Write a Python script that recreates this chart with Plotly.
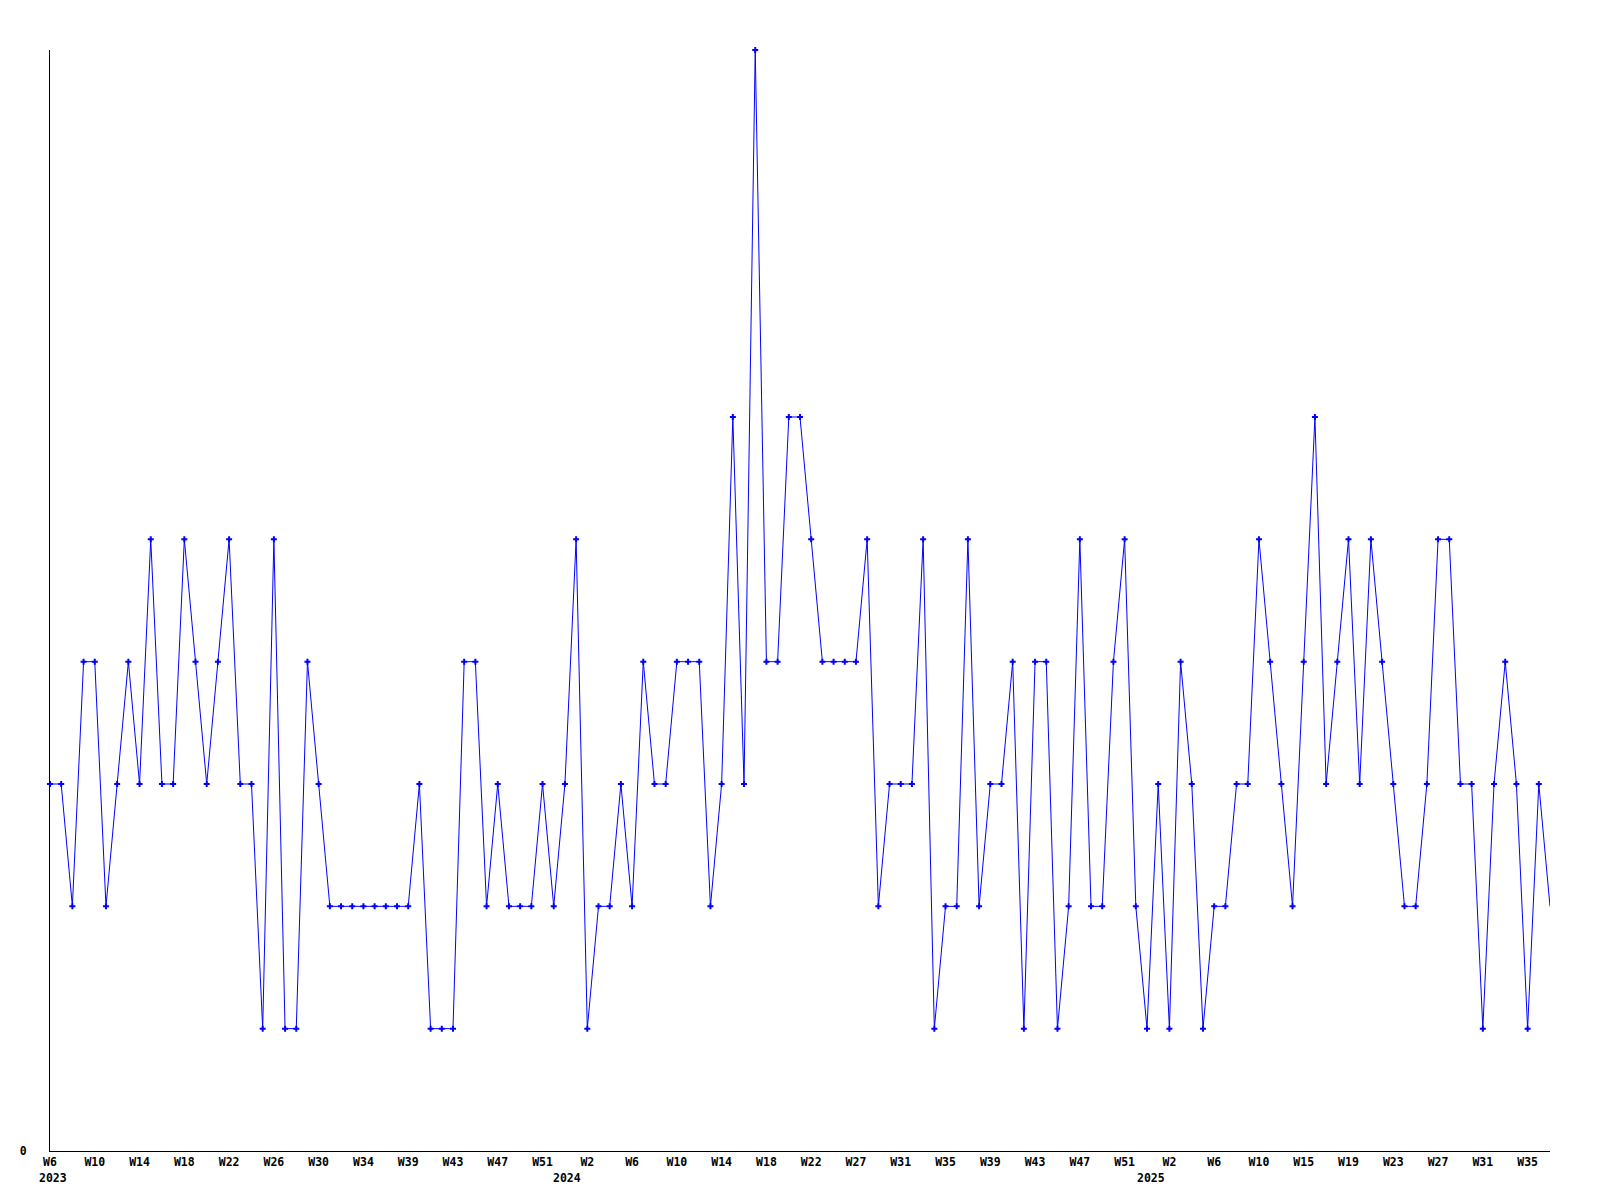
import plotly.graph_objects as go

# Weekly counts, 2023 W6 .. 2025 W36 (one value per week)
values = [
    3, 3, 2, 4, 4, 2, 3, 4, 3, 5,
    3, 3, 5, 4, 3, 4, 5, 3, 3, 1,
    5, 1, 1, 4, 3, 2, 2, 2, 2, 2,
    2, 2, 2, 3, 1, 1, 1, 4, 4, 2,
    3, 2, 2, 2, 3, 2, 3, 5, 1, 2,
    2, 3, 2, 4, 3, 3, 4, 4, 4, 2,
    3, 6, 3, 9, 4, 4, 6, 6, 5, 4,
    4, 4, 4, 5, 2, 3, 3, 3, 5, 1,
    2, 2, 5, 2, 3, 3, 4, 1, 4, 4,
    1, 2, 5, 2, 2, 4, 5, 2, 1, 3,
    1, 4, 3, 1, 2, 2, 3, 3, 5, 4,
    3, 2, 4, 6, 3, 4, 5, 3, 5, 4,
    3, 2, 2, 3, 5, 5, 3, 3, 1, 3,
    4, 3, 1, 3, 2,
]
week_index = list(range(len(values)))

# X tick labels (one every 4 weeks)
tick_labels = [
    "W6", "W10", "W14", "W18", "W22", "W26", "W30", "W34", "W39", "W43", "W47", "W51",
    "W2", "W6", "W10", "W14", "W18", "W22", "W27", "W31", "W35", "W39", "W43", "W47", "W51",
    "W2", "W6", "W10", "W15", "W19", "W23", "W27", "W31", "W35",
]
tick_step = 4
tick_vals = [k * tick_step for k in range(len(tick_labels))]

# Year labels and their (approximate) positions along the week axis
year_labels = ["2023", "2024", "2025"]
year_pos = [0.3, 46.2, 98.4]

font_family = "DejaVu Sans Mono"
font = dict(family=font_family, size=11.5, color="black", weight="bold")

fig = go.Figure()
fig.add_trace(go.Scatter(
    x=week_index, y=values, mode="lines",
    line=dict(color="#0000ff", width=1),
    cliponaxis=False, hoverinfo="skip", showlegend=False,
))
fig.add_trace(go.Scatter(
    x=week_index[:-1], y=values[:-1], mode="markers",
    marker=dict(symbol="cross", size=5, color="#0000ff", line=dict(width=0)),
    cliponaxis=False, showlegend=False,
))

for lbl, pos in zip(year_labels, year_pos):
    fig.add_annotation(
        x=pos, y=0, xref="x", yref="paper", text=lbl, showarrow=False,
        yanchor="top", xanchor="center", yshift=-18, font=font,
    )

# page body adds an 8px margin, so the figure is 16px smaller than the window
fig.update_layout(
    width=1584, height=1184,
    margin=dict(l=42, r=42, t=42, b=41, pad=0),
    paper_bgcolor="white", plot_bgcolor="white",
    showlegend=False,
    xaxis=dict(
        range=[0, len(values) - 1], showgrid=False, zeroline=False,
        showline=True, linecolor="black", linewidth=1,
        tickmode="array", tickvals=tick_vals, ticktext=tick_labels,
        ticks="", tickfont=font, tickangle=0,
    ),
    yaxis=dict(
        range=[0, 9], showgrid=False, zeroline=False,
        showline=True, linecolor="black", linewidth=1,
        tickmode="array", tickvals=[0], ticktext=["0"],
        ticks="", tickfont=font, ticklabelstandoff=20,
    ),
)

fig.write_html("out.html")
